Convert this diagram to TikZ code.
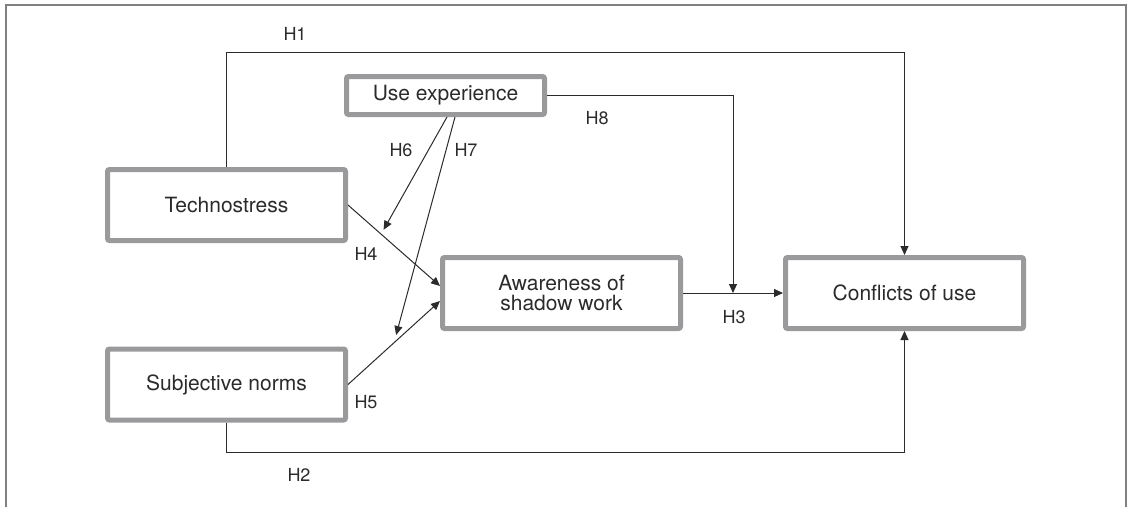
\documentclass[tikz,border=0pt]{standalone}
\usepackage{fontspec}
\setmainfont{TeX Gyre Heros}
\usetikzlibrary{arrows.meta,calc}
\definecolor{boxgray}{HTML}{9A9A9C}
\definecolor{inkgray}{HTML}{2B2B2B}
\definecolor{framegray}{HTML}{808080}
\begin{document}
\begin{tikzpicture}[x=1pt,y=-1pt,inner sep=0pt,
construct/.style={draw=boxgray,line width=5pt,rounded corners=2pt,fill=white,rectangle,minimum width=238pt,minimum height=71pt,text=inkgray,align=center,font=\fontsize{21}{20}\selectfont},
hyp/.style={text=inkgray,font=\fontsize{18}{18}\selectfont},
link/.style={draw=inkgray,line width=1pt,-{Triangle[length=9pt,width=8pt]}}]
\useasboundingbox (0,0) rectangle (1127,507);
\draw[framegray,line width=1.5pt] (6,507) -- (6,5) -- (1126,5) -- (1126,507);
\draw (226.5,205) node[construct] (tech) {Technostress};
\draw (226.5,384.5) node[construct] (subj) {Subjective norms};
\draw (561.5,293) node[construct] (aware) {Awareness of\\shadow work};
\draw (904.5,293) node[construct] (conf) {Conflicts of use};
\draw (445.5,95.5) node[construct,minimum width=198pt,minimum height=38pt] (usexp) {Use experience};
% direct paths
\draw[link] (tech.north) -- ++(0,-115) -| (conf.north);
\draw[link] (subj.south) -- ++(0,30) -| (conf.south);
\draw[link] (aware.east) -- (conf.west);
\draw[link] (tech.east) -- ([yshift=7pt]aware.west);
\draw[link] (subj.east) -- ([yshift=-8pt]aware.west);
% moderators
\coordinate (h3mid) at ($(aware.east)!.5!(conf.west)$);
\coordinate (on4) at ($(tech.east)!.36!([yshift=7pt]aware.west)$);
\coordinate (on5) at ($(subj.east)!.5!([yshift=-8pt]aware.west)$);
\draw[link] (usexp.east) -| (h3mid);
\draw[link,shorten >=5pt] ([xshift=1.5pt]usexp.south) -- (on4);
\draw[link,shorten >=8pt] ([xshift=9.5pt]usexp.south) -- (on5);
% labels
\draw (295,34) node[hyp] (lh1) {H1};
\draw (299,475) node[hyp] (lh2) {H2};
\draw (734,317.5) node[hyp] (lh3) {H3};
\draw (366,254) node[hyp] (lh4) {H4};
\draw (366,402.5) node[hyp] (lh5) {H5};
\draw (401,150) node[hyp] (lh6) {H6};
\draw (466,150) node[hyp] (lh7) {H7};
\draw (597,118.5) node[hyp] (lh8) {H8};
\end{tikzpicture}
\end{document}
